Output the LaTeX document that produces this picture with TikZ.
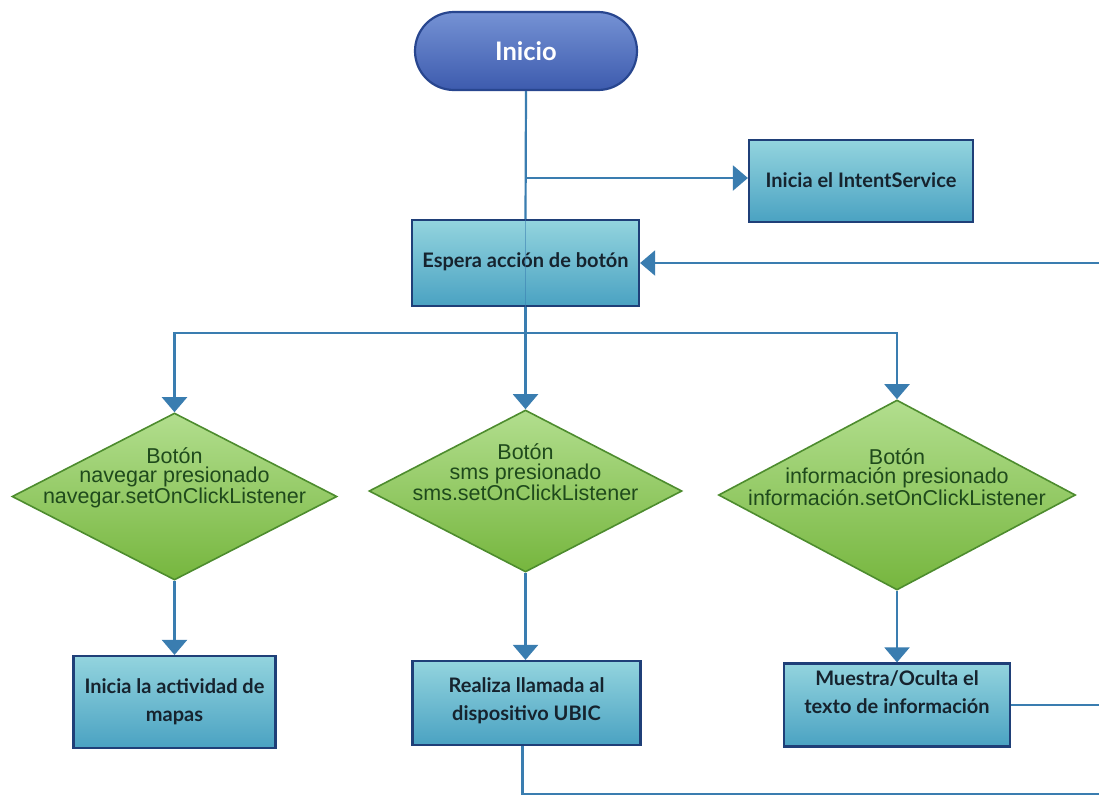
\documentclass[tikz,border=0pt]{standalone}
\usepackage{fontspec}
\setmainfont{Lato}
\newfontfamily\diafont{Liberation Sans}
\usetikzlibrary{arrows.meta,shapes.geometric,shapes.misc}

\definecolor{linkblue}{HTML}{3A7DB0}
\definecolor{boxedge}{HTML}{1F3F78}
\definecolor{boxtop}{HTML}{93D4DE}
\definecolor{boxbot}{HTML}{4AA2C2}
\definecolor{boxtext}{HTML}{16232E}
\definecolor{starttop}{HTML}{7592D4}
\definecolor{startbot}{HTML}{3D5BAE}
\definecolor{startedge}{HTML}{28468F}
\definecolor{dectop}{HTML}{B2DE8E}
\definecolor{decbot}{HTML}{76B63E}
\definecolor{decedge}{HTML}{4D8C2E}
\definecolor{dectext}{HTML}{1F4A1C}

\begin{document}
\begin{tikzpicture}[x=1pt,y=-1pt,
  conn/.style={draw=linkblue,line width=2.2pt},
  arr/.style={conn,-{Triangle[length=15pt,width=25pt]}},
  startbox/.style={rounded rectangle,draw=startedge,line width=2.2pt,
    top color=starttop,bottom color=startbot,text=white,
    font=\fontsize{25.5}{30}\selectfont\bfseries,inner sep=0pt},
  procbox/.style={rectangle,draw=boxedge,line width=2.2pt,
    top color=boxtop,bottom color=boxbot,inner sep=0pt},
  proctext/.style={text=boxtext,align=center,inner sep=0pt,
    font=\fontsize{20}{28}\selectfont\bfseries},
  decision/.style={diamond,draw=decedge,line width=1.6pt,
    top color=dectop,bottom color=decbot,inner sep=0pt},
  dectextstyle/.style={text=dectext,align=center,inner sep=0pt,
    font=\diafont\fontsize{21.5}{19.5}\selectfont},
]
\clip (0,0) rectangle (1099,796);
\useasboundingbox (0,0) rectangle (1099,796);
\fill[white] (0,0) rectangle (1099,796);

% start terminal
\node[startbox,minimum width=222pt,minimum height=78pt] (ini) at (526,51) {Inicio};

% process boxes
\node[procbox,minimum width=224pt,minimum height=82pt] (svc) at (861,181) {};
\node[proctext] (svctxt) at (861,180) {Inicia el IntentService};

\node[procbox,minimum width=227pt,minimum height=86pt] (esp) at (525.5,263) {};
\node[proctext] (esptxt) at (525.5,262) {Espera acción de botón};

\node[procbox,minimum width=202pt,minimum height=92pt] (act) at (174.5,702) {};
\node[proctext] (acttxt) at (174.5,702) {Inicia la actividad de\\mapas};

\node[procbox,minimum width=228pt,minimum height=84pt] (ubic) at (526.5,703) {};
\node[proctext] (ubictxt) at (526.5,701) {Realiza llamada al\\dispositivo UBIC};

\node[procbox,minimum width=226pt,minimum height=83pt] (info) at (897,705) {};
\node[proctext] (infotxt) at (897,692) {Muestra/Oculta el\\texto de información};

% decisions
\node[decision,minimum width=325pt,minimum height=167pt] (dnav) at (174.5,496.5) {};
\node[dectextstyle] (dnavtxt) at (174.5,478) {Botón\\navegar presionado\\navegar.setOnClickListener};

\node[decision,minimum width=313pt,minimum height=162pt] (dsms) at (525.5,491) {};
\node[dectextstyle] (dsmstxt) at (525.5,472) {Botón\\sms presionado\\sms.setOnClickListener};

\node[decision,minimum width=357pt,minimum height=190pt] (dinf) at (897,495) {};
\node[dectextstyle] (dinftxt) at (897,477) {Botón\\información presionado\\información.setOnClickListener};

% junction points
\coordinate (fork) at (526,178);
\coordinate (bus) at (525.5,333);
\coordinate (loopR) at (1120,705);
\coordinate (loopB) at (522.5,794);

% main flow
\draw[conn] (ini.south) -- (esp.north);
\draw[arr] (fork) -- (fork -| svc.west);
\draw[conn,line width=1pt,opacity=0.55] (esp.north) -- (esp.south);
\draw[conn] (esp.south) -- (bus);
\draw[arr] (bus) -| (dnav.north);
\draw[arr] (bus) -- (dsms.north);
\draw[arr] (bus) -| (dinf.north);

\draw[arr] (dnav.south) -- (act.north);
\draw[arr] (dsms.south) -- (ubic.north -| dsms.south);
\draw[arr] (dinf.south) -- (info.north);

% return loops
\draw[arr] (info.east) -- (loopR) |- (esp.east);
\draw[conn] (loopB |- ubic.south) -- (loopB) -| (loopR);
\end{tikzpicture}
\end{document}
